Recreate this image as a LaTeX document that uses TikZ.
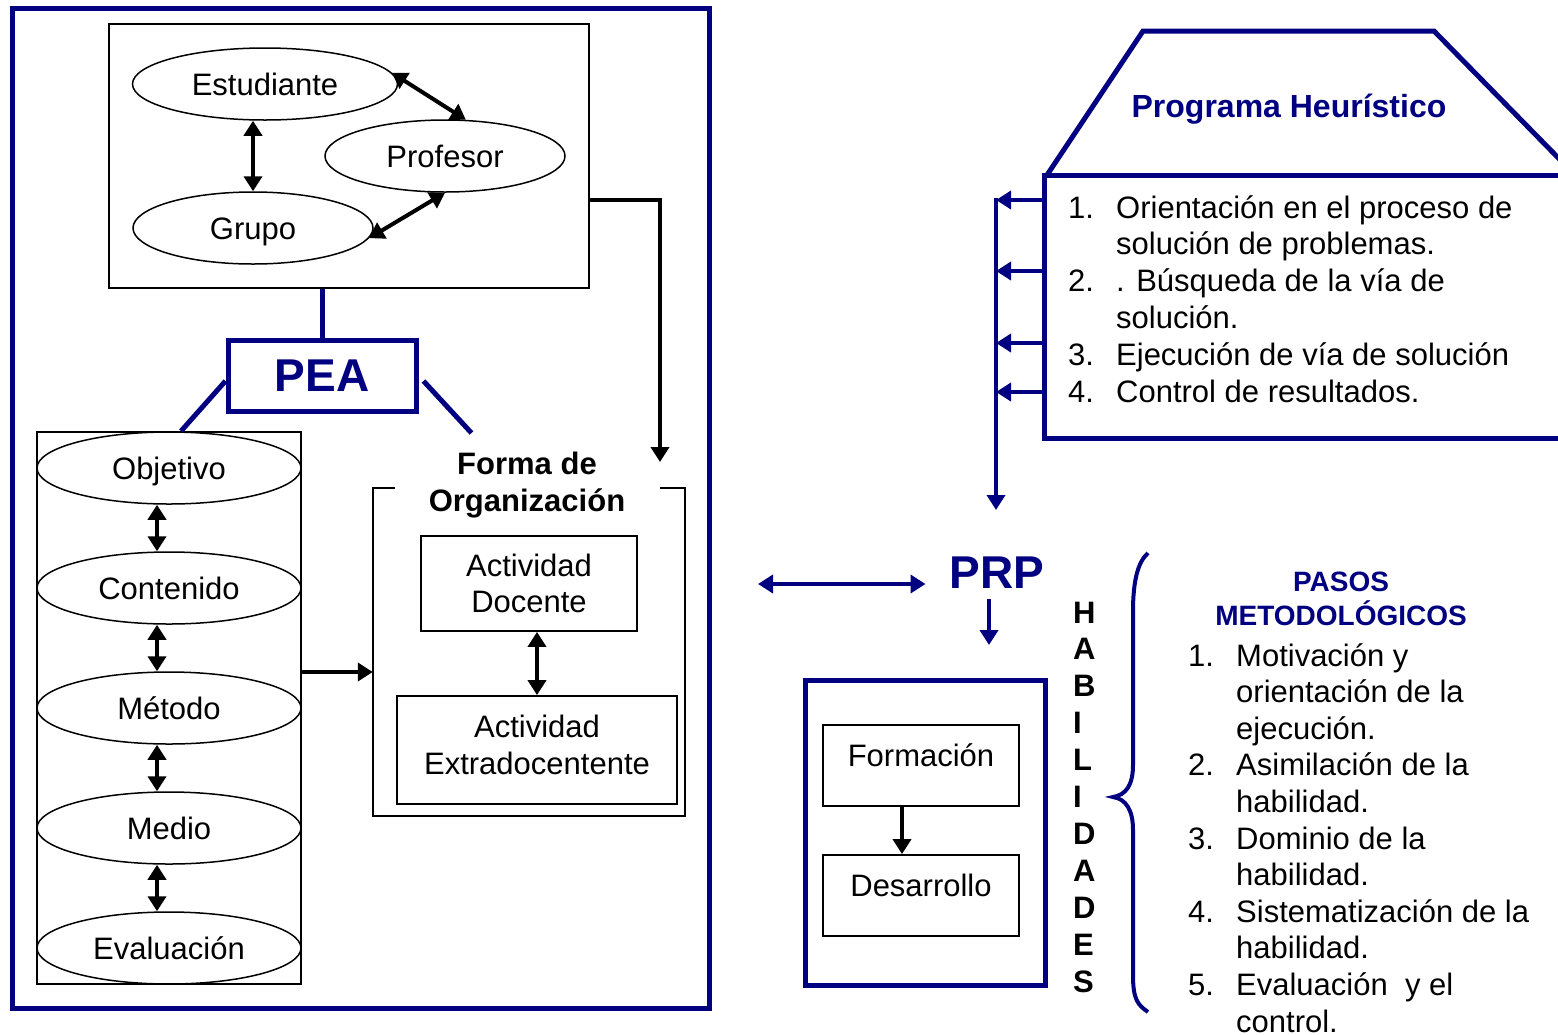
\documentclass[tikz,border=0pt]{standalone}
\usepackage{fontspec}
\setmainfont{Liberation Sans}
\usetikzlibrary{arrows.meta,positioning,shapes.geometric}
\definecolor{navy}{RGB}{0,0,128}
\newcommand{\itemnum}[1]{\makebox[48pt][l]{#1}}
\newcommand{\sangria}{\hspace*{48pt}}

\begin{document}
\begin{tikzpicture}[
  x=1pt,
  y=-1pt,
  font=\fontsize{31}{36.8}\selectfont,
  >={Triangle[length=15pt,width=18pt]},
  marco/.style={draw=navy, line width=5pt},
  caja/.style={draw=black, line width=1.8pt, inner sep=0pt, align=center},
  elipse/.style={ellipse, draw=black, line width=1.5pt, inner sep=0pt,
    minimum width=264pt, minimum height=72pt, text height=22.5pt, text depth=0pt},
  flecha/.style={<->, line width=4pt, draw=black},
  flechauno/.style={->, line width=4pt, draw=black},
  azul/.style={->, line width=4pt, draw=navy},
  enlace/.style={line width=5pt, draw=navy},
  sigla/.style={font=\fontsize{46}{50}\selectfont\bfseries, text=navy, inner sep=0pt},
  lista/.style={align=left, inner sep=0pt, anchor=base west}
]
\useasboundingbox (0,0) rectangle (1558,1034);
\clip (0,0) rectangle (1558,1034);

% left panel
\draw[marco] (12,8) rectangle (709,1008);

\node[caja, minimum width=480pt, minimum height=264pt] (actores) at (349,156) {};
\node[elipse, minimum width=265pt] (est) at (265,84) {Estudiante};
\node[elipse, minimum width=240pt] (prof) at (445,156) {Profesor};
\node[elipse, minimum width=240pt] (grupo) at (253,228) {Grupo};

\draw[flecha] (est.5) -- (prof.60);
\draw[flecha] (grupo.355) -- (prof.south);
\draw[flecha] (grupo.north |- est.south) -- (grupo.north);

\coordinate (formaTip) at (660,462);
\draw[flechauno] (actores.east |- 0,200) -- (formaTip |- 0,200) -- (formaTip);

% PEA
\node[sigla, draw=navy, line width=5pt, minimum width=188pt, minimum height=71pt] (pea) at (322,376) {PEA};
\draw[enlace] (actores.south -| pea.north) -- (pea.north);

\node[caja, minimum width=264pt, minimum height=552pt] (columna) at (169,708) {};
\foreach \nombre/\texto/\yy in {obj/Objetivo/468, cont/Contenido/588, met/Método/708,
    med/Medio/828, eva/Evaluación/948}
  \node[elipse] (\nombre) at (169,\yy) {\texto};
\foreach \a/\b in {obj/cont, cont/met, met/med, med/eva}
  \draw[flecha] ([xshift=-12pt]\a.south) -- ([xshift=-12pt]\b.north);

\draw[enlace] ([yshift=-5pt]pea.west) -- ([xshift=12pt]columna.north);
\draw[enlace] ([xshift=5pt,yshift=-5pt]pea.east) -- ++(48,52);

% forma de organizacion
\node[minimum width=312pt, minimum height=328pt, inner sep=0pt] (forma) at (529,652) {};
\draw[line width=1.8pt] ([xshift=22pt]forma.north west) -- (forma.north west)
  -- (forma.south west) -- (forma.south east) -- (forma.north east)
  -- ([xshift=-25pt]forma.north east);
\node[font=\fontsize{31}{37}\selectfont\bfseries, align=center, anchor=base] (formaTit)
  at (527,511) {Forma de\\Organización};
\node[caja, minimum width=216pt, minimum height=95pt] (docente) at (529,583.5) {Actividad\\Docente};
\node[caja, minimum width=280pt, minimum height=108pt, text depth=10pt] (extra) at (537,750) {Actividad\\Extradocentente};
\draw[flecha] (docente.south -| extra.north) -- (extra.north);

\draw[flechauno] (columna.east |- 0,672) -- (forma.west |- 0,672);

% programa heuristico
\draw[marco] (1047,175) -- (1143,31) -- (1434,31) -- (1575,175);
\node[font=\fontsize{32}{36}\selectfont\bfseries, text=navy] (heur) at (1289,109) {Programa Heurístico};
\node[draw=navy, line width=5pt, minimum width=560pt, minimum height=263pt, inner sep=0pt]
  (caja) at (1324,306.5) {};
\node[lista] (orient) at (1068,402) {\itemnum{1.}Orientación en el proceso de\\
  \sangria solución de problemas.\\
  \itemnum{2.}. Búsqueda de la vía de\\
  \sangria solución.\\
  \itemnum{3.}Ejecución de vía de solución\\
  \itemnum{4.}Control de resultados.};

\coordinate (bajada) at (996,198);
\coordinate (prpTip) at (996,510);
\draw[azul] (bajada) -- (prpTip);
\foreach \yy in {200,271,343,392}
  \draw[azul] (caja.west |- 0,\yy) -- (bajada |- 0,\yy);

% PRP
\node[sigla] (prp) at (997,573) {PRP};
\coordinate (puente) at (758,584);
\draw[azul, <->, shorten >=24pt] (puente) -- (puente -| prp.west);
\draw[azul] ([xshift=-8pt,yshift=-10pt]prp.south) -- ++(0,46);

\node[draw=navy, line width=5pt, minimum width=240pt, minimum height=305pt, inner sep=0pt]
  (procesos) at (925,832.5) {};
\node[caja, minimum width=196pt, minimum height=81pt, text height=23pt, text depth=21pt]
  (form) at (921,765.5) {Formación};
\node[caja, minimum width=196pt, minimum height=81pt, text height=23pt, text depth=21pt]
  (desa) at (921,895.5) {Desarrollo};
\draw[flechauno] ([xshift=-19pt]form.south) -- ([xshift=-19pt]desa.north);

\node[font=\fontsize{31}{36.9}\selectfont\bfseries, align=left, anchor=base west, inner sep=0pt]
  (habil) at (1073,992) {H\\A\\B\\I\\L\\I\\D\\A\\D\\E\\S};

% llave
\draw[navy, line width=4pt] (1148,553) .. controls (1138,562) and (1133,580) .. (1133,612)
  -- (1133,765) .. controls (1133,785) and (1126,795) .. (1113,797)
  .. controls (1126,799) and (1133,810) .. (1133,830)
  -- (1133,975) .. controls (1133,1000) and (1138,1005) .. (1148,1012);

\node[font=\fontsize{28}{34}\selectfont\bfseries, text=navy, align=center, anchor=base]
  (pasos) at (1341,625) {PASOS\\METODOLÓGICOS};
\node[lista, font=\fontsize{31}{36.6}\selectfont] (metod) at (1188,1032) {\itemnum{1.}Motivación y\\
  \sangria orientación de la\\
  \sangria ejecución.\\
  \itemnum{2.}Asimilación de la\\
  \sangria habilidad.\\
  \itemnum{3.}Dominio de la\\
  \sangria habilidad.\\
  \itemnum{4.}Sistematización de la\\
  \sangria habilidad.\\
  \itemnum{5.}Evaluación~ y el\\
  \sangria control.};

\end{tikzpicture}
\end{document}
